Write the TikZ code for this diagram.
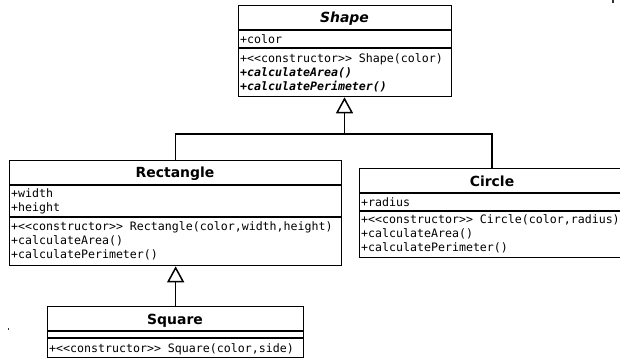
\documentclass[tikz,border=0pt]{standalone}
\usepackage{fontspec}
\setmainfont{DejaVu Sans}
\newfontfamily\memberfont{DejaVu Sans Mono}
\usetikzlibrary{arrows.meta}

\tikzset{
  classbox/.style={draw=black, line width=1.3bp, fill=white, inner sep=0pt, anchor=north west},
  divider/.style={draw=black, line width=1.1bp},
  classname/.style={font=\fontsize{14}{16}\selectfont\bfseries, inner sep=0pt, anchor=base},
  member/.style={font=\memberfont\fontsize{11.65}{13}\selectfont, inner sep=0pt, anchor=base west},
  abstractop/.style={member, font=\memberfont\fontsize{11.65}{13}\selectfont\bfseries\itshape},
  link/.style={draw=black, line width=1.5bp},
  inherits/.style={link, -{Triangle[open, length=16bp, width=17bp, line width=1.5bp]}},
  speck/.style={fill=black!80, draw=none}
}

\begin{document}
\begin{tikzpicture}[x=1bp, y=-1bp]
  \useasboundingbox (0,0) rectangle (620,360);
  \fill[white] (0,0) rectangle (620,360);

  % ---- abstract class Shape ----
  \node[classbox, minimum width=213bp, minimum height=91bp] (shape) at (238,5) {};
  \draw[divider] (shape.west |- 0,30) -- (shape.east |- 0,30);
  \draw[divider] (shape.west |- 0,48) -- (shape.east |- 0,48);
  \node[classname, font=\fontsize{14}{16}\selectfont\bfseries\itshape] (shapeT) at (344.5,22.5) {Shape};
  \node[member] (shapeA1) at (240,43) {+color};
  \node[member] (shapeM1) at (240,62) {+{<}{<}constructor{>}{>} Shape(color)};
  \node[abstractop] (shapeM2) at (240,76) {+calculateArea()};
  \node[abstractop] (shapeM3) at (240,90) {+calculatePerimeter()};

  % ---- class Rectangle ----
  \node[classbox, minimum width=332bp, minimum height=105bp] (rect) at (9,160) {};
  \draw[divider] (rect.west |- 0,185) -- (rect.east |- 0,185);
  \draw[divider] (rect.west |- 0,217) -- (rect.east |- 0,217);
  \node[classname] (rectT) at (175,177.5) {Rectangle};
  \node[member] (rectA1) at (11,197) {+width};
  \node[member] (rectA2) at (11,211) {+height};
  \node[member] (rectM1) at (11,230) {+{<}{<}constructor{>}{>} Rectangle(color,width,height)};
  \node[member] (rectM2) at (11,244) {+calculateArea()};
  \node[member] (rectM3) at (11,258) {+calculatePerimeter()};

  % ---- class Circle ----
  \node[classbox, minimum width=266bp, minimum height=89bp] (circ) at (359,168) {};
  \draw[divider] (circ.west |- 0,193) -- (circ.east |- 0,193);
  \draw[divider] (circ.west |- 0,211) -- (circ.east |- 0,211);
  \node[classname] (circT) at (492,186) {Circle};
  \node[member] (circA1) at (361,206) {+radius};
  \node[member] (circM1) at (361,223) {+{<}{<}constructor{>}{>} Circle(color,radius)};
  \node[member] (circM2) at (361,237) {+calculateArea()};
  \node[member] (circM3) at (361,251) {+calculatePerimeter()};

  % ---- class Square ----
  \node[classbox, minimum width=256bp, minimum height=51bp] (sq) at (47,306) {};
  \draw[divider] (sq.west |- 0,331) -- (sq.east |- 0,331);
  \draw[divider] (sq.west |- 0,338) -- (sq.east |- 0,338);
  \node[classname] (sqT) at (175,324) {Square};
  \node[member] (sqM1) at (49,352) {+{<}{<}constructor{>}{>} Square(color,side)};

  % ---- generalisation links ----
  \coordinate (junction) at (344.5,134);
  \draw[link] (rect.north) |- (junction);
  \draw[link] (circ.north -| 492,0) |- (junction);
  \draw[inherits] (junction) -- (junction |- shape.south);
  \draw[inherits] (sq.north) -- (sq.north |- rect.south);

  % ---- small specks on the sheet ----
  \fill[speck] (7.5,328) rectangle (9,330);
  \fill[speck] (612,0) rectangle (614,3);
\end{tikzpicture}
\end{document}
